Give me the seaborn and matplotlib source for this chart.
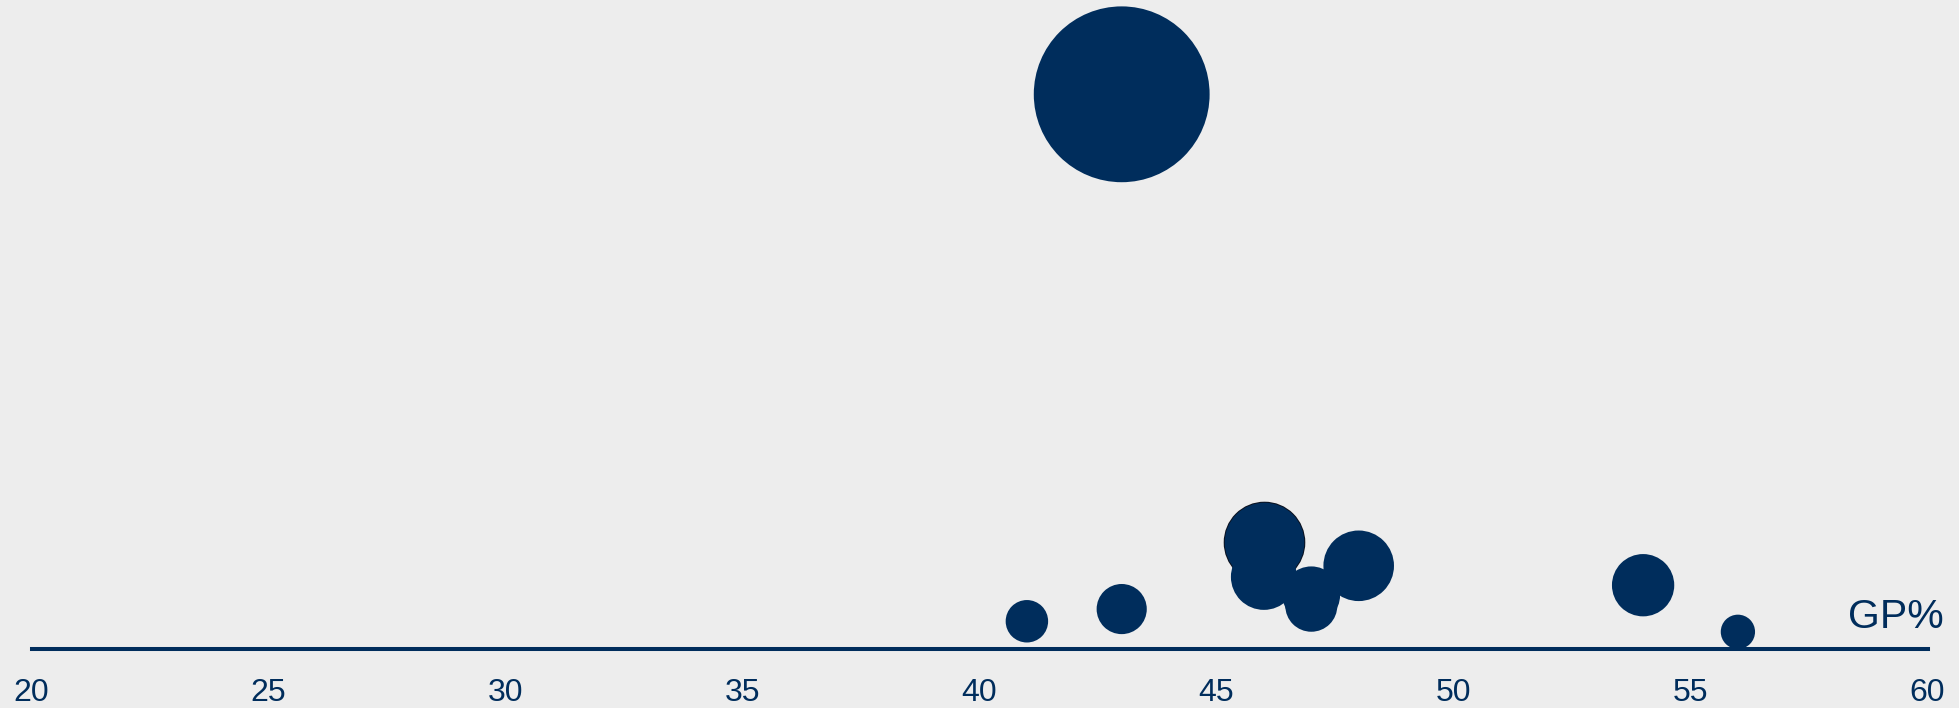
import matplotlib
matplotlib.use("Agg")
import matplotlib.pyplot as plt
import seaborn as sns
import pandas as pd

# Gross-profit margin (%) per company and the value that sets both height and bubble area
gp_pct = [46, 43, 41, 43, 46, 47, 47, 48, 54, 56]
value = [19.3, 100.0, 5.0, 7.2, 13.0, 9.7, 7.8, 15.0, 11.5, 3.1]
highlighted = [True, False, False, False, False, False, False, False, False, False]
tick_values = [20, 25, 30, 35, 40, 45, 50, 55, 60]
axis_title = "GP%"

NAVY = "#002D5C"
OUTLINE = "#0B1220"
BG = "#EDEDED"

df = pd.DataFrame({"gp": gp_pct, "value": value, "hl": highlighted})

sns.set_theme(style="white")
plt.rcParams["font.family"] = ["Liberation Sans", "DejaVu Sans"]

W, H = 1959, 708
fig = plt.figure(figsize=(W / 100, H / 100), dpi=100, facecolor=BG)
ax = fig.add_axes([31.5 / W, 59 / H, 1896 / W, 649 / H])
ax.set_facecolor(BG)

size_kw = dict(size="value", sizes=(0, 15300), size_norm=(0, 100), legend=False, ax=ax)

# highlighted bubble: thin dark ring under a navy edge
hl = df[df["hl"]]
sns.scatterplot(data=hl, x="gp", y="value", color=NAVY, edgecolor=OUTLINE,
                linewidth=4.4, zorder=1.0, clip_on=False, **size_kw)
sns.scatterplot(data=hl, x="gp", y="value", color=NAVY, edgecolor=NAVY,
                linewidth=2.9, zorder=1.1, clip_on=False, **size_kw)

# remaining bubbles
rest = df[~df["hl"]]
sns.scatterplot(data=rest, x="gp", y="value", color=NAVY, edgecolor=NAVY,
                linewidth=2.9, zorder=1.2, clip_on=False, **size_kw)

ax.set_xlim(20, 60)
ax.set_ylim(0, 117)
ax.set_xticks(tick_values)
ax.set_xticklabels([str(t) for t in tick_values])
ax.set_yticks([])
ax.set_xlabel("")
ax.set_ylabel("")
ax.tick_params(axis="x", length=0, pad=21, labelsize=23, labelcolor=NAVY)

for side in ("top", "left", "right"):
    ax.spines[side].set_visible(False)
ax.spines["bottom"].set_color(NAVY)
ax.spines["bottom"].set_linewidth(2.9)
ax.spines["bottom"].set_zorder(3)

fig.text(1944 / W, (H - 628) / H, axis_title, ha="right", va="baseline",
         fontsize=29.5, color=NAVY)

fig.savefig("out.png", dpi=100, facecolor=BG)
